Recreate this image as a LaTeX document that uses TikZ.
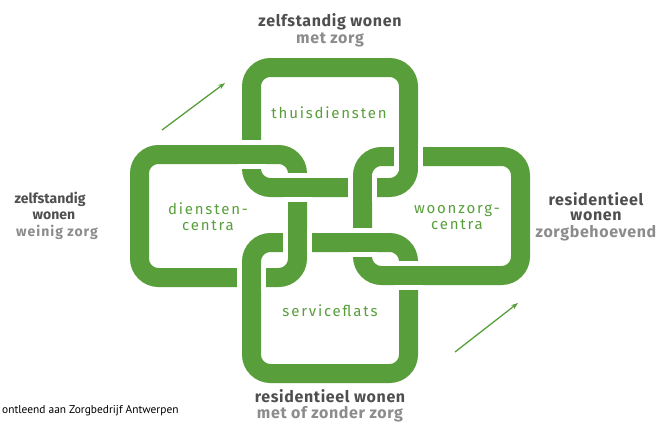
\documentclass[tikz,border=0pt]{standalone}
\usepackage{fontspec}
\setmainfont{Fira Sans}
\newfontfamily\linkfont[LetterSpace=12]{Fira Sans}
\newfontfamily\labelfont[LetterSpace=4]{Fira Sans}
\newfontfamily\tightfont{Fira Sans}
\newfontfamily\subfont[LetterSpace=7]{Fira Sans}
\newfontfamily\notefont{PT Sans}
\usetikzlibrary{arrows.meta}
\definecolor{linkgreen}{HTML}{589F3B}
\definecolor{darkgrey}{HTML}{4F4F4F}
\definecolor{lightgrey}{HTML}{8C8C8C}
\begin{document}
\begin{tikzpicture}[x=1pt,y=-1pt,
  chainlink/.style={draw=linkgreen, line width=19pt, rounded corners=19pt,
    rectangle, outer sep=0pt, inner sep=0pt},
  overwhite/.style={draw=white, line width=29pt},
  overgreen/.style={draw=linkgreen, line width=19pt},
  linktext/.style={text=linkgreen, font=\linkfont\fontsize{15}{15}\selectfont, inner sep=0pt},
  mainlabel/.style={text=darkgrey, font=\labelfont\bfseries\fontsize{16}{16}\selectfont, inner sep=0pt},
  sublabel/.style={text=lightgrey, font=\labelfont\bfseries\fontsize{16}{16}\selectfont, inner sep=0pt},
  leftmain/.style={text=darkgrey, font=\tightfont\bfseries\fontsize{14}{14}\selectfont, inner sep=0pt},
  leftsub/.style={text=lightgrey, font=\subfont\bfseries\fontsize{14}{14}\selectfont, inner sep=0pt},
  notetext/.style={text=black, font=\notefont\fontsize{11.4}{11.4}\selectfont, inner sep=0pt, anchor=west},
  trend/.style={draw=linkgreen, line width=1.3pt, -{Stealth[length=7pt,width=5pt]}}
]
\useasboundingbox[fill=white] (0,0) rectangle (670,423);

% the four links
\node[chainlink, minimum width=157pt, minimum height=120pt] (thuis) at (330,127.5) {};
\node[chainlink, minimum width=158pt, minimum height=123pt] (dienst) at (218.5,216) {};
\node[chainlink, minimum width=158pt, minimum height=119pt] (woon) at (441.5,216) {};
\node[chainlink, minimum width=157pt, minimum height=131pt] (service) at (330,308) {};

% crossing points
\coordinate (ca) at (thuis.west |- dienst.north);
\coordinate (cb) at (dienst.east |- thuis.south);
\coordinate (cc) at (thuis.east |- woon.north);
\coordinate (cd) at (woon.west |- thuis.south);
\coordinate (ce) at (service.west |- dienst.south);
\coordinate (cf) at (dienst.east |- service.north);
\coordinate (cg) at (woon.west |- service.north);
\coordinate (ch) at (service.east |- woon.south);

% over-passes (horizontal strand over)
\foreach \c in {ca,cb,cg,ch}{
  \draw[overwhite] ([xshift=-14pt]\c) -- ([xshift=14pt]\c);
  \draw[overgreen] ([xshift=-15pt]\c) -- ([xshift=15pt]\c);
}
% over-passes (vertical strand over)
\foreach \c in {cc,cd,ce,cf}{
  \draw[overwhite] ([yshift=-14pt]\c) -- ([yshift=14pt]\c);
  \draw[overgreen] ([yshift=-15pt]\c) -- ([yshift=15pt]\c);
}

% labels in the links
\node[linktext] (tthuis) at (329,113) {thuisdiensten};
\node[linktext, align=center] (tdienst) at (208,217) {diensten-\\[1pt]centra};
\node[linktext, align=center] (twoon) at (457,217) {woonzorg-\\[1pt]centra};
\node[linktext] (tservice) at (330,311) {serviceflats};

% outer labels
\node[mainlabel] (top1) at (330,22) {zelfstandig wonen};
\node[sublabel] (top2) at (330,40) {met zorg};
\node[leftmain] (left1) at (50,199) {zelfstandig};
\node[leftmain] (left2) at (54,216) {wonen};
\node[leftsub] (left3) at (57,232) {weinig zorg};
\node[mainlabel] (right1) at (596,199) {residentieel};
\node[mainlabel] (right2) at (596,216) {wonen};
\node[sublabel] (right3) at (596,233) {zorgbehoevend};
\node[mainlabel] (bot1) at (330,396) {residentieel wonen};
\node[sublabel] (bot2) at (330,414) {met of zonder zorg};
\node[notetext] (note) at (2,411) {ontleend aan Zorgbedrijf Antwerpen};

% trend arrows
\coordinate (a1s) at (162,130);
\coordinate (a1e) at (225,83);
\coordinate (a2s) at (455,352);
\coordinate (a2e) at (518,303);
\draw[trend] (a1s) -- (a1e);
\draw[trend] (a2s) -- (a2e);
\end{tikzpicture}
\end{document}
